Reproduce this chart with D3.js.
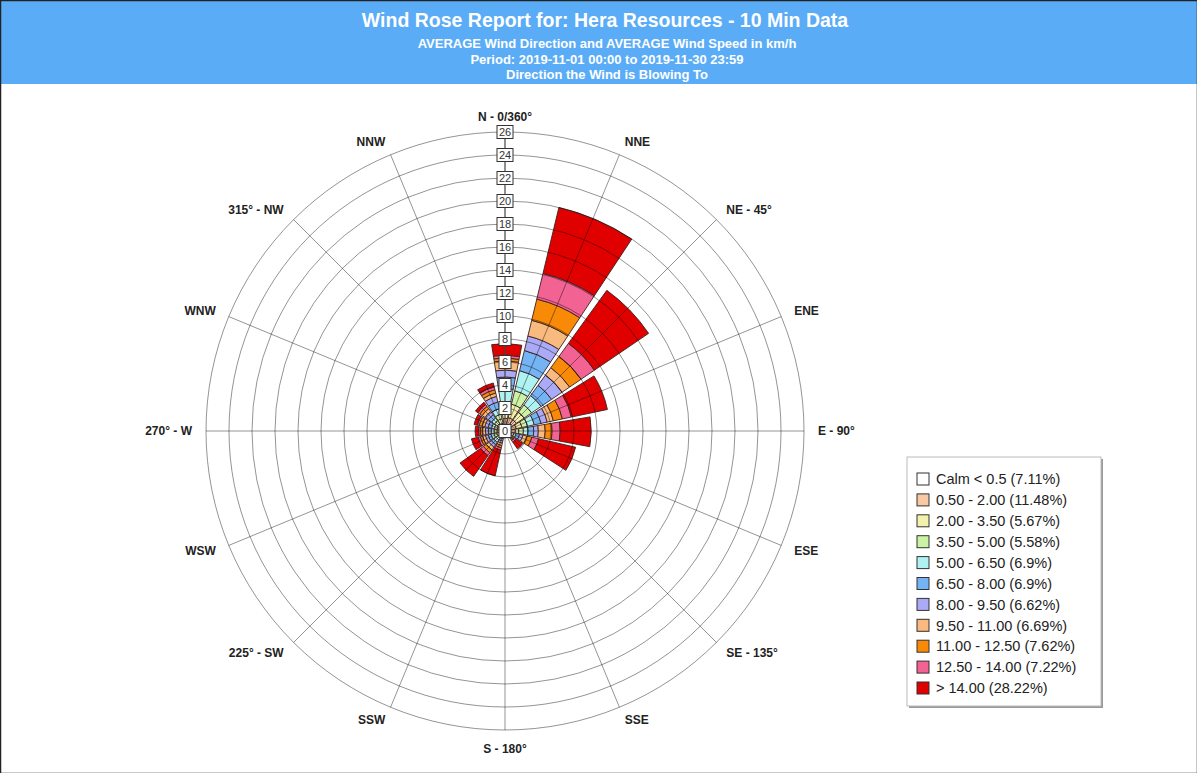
<!doctype html>
<html>
<head>
<meta charset="utf-8">
<script src="https://cdnjs.cloudflare.com/ajax/libs/d3/7.8.5/d3.min.js"></script>
<style>
  body { margin: 0; background: #fff; font-family: "Liberation Sans", Arial, sans-serif; }
  svg { display: block; }
</style>
</head>
<body>
<svg id="chart" width="1197" height="773"></svg>
<script>
// directions (blowing to), clockwise from north
var directions = ["N","NNE","NE","ENE","E","ESE","SE","SSE","S","SSW","SW","WSW","W","WNW","NW","NNW"];
var dirLabels = ["N - 0/360°","NNE","NE - 45°","ENE","E - 90°","ESE","SE - 135°","SSE",
                 "S - 180°","SSW","225° - SW","WSW","270° - W","WNW","315° - NW","NNW"];

// speed classes (km/h) and legend text
var classes = ["c1","c2","c3","c4","c5","c6","c7","c8","c9","c10"];
var legendText = ["Calm < 0.5 (7.11%)","0.50 - 2.00 (11.48%)","2.00 - 3.50 (5.67%)","3.50 - 5.00 (5.58%)",
                  "5.00 - 6.50 (6.9%)","6.50 - 8.00 (6.9%)","8.00 - 9.50 (6.62%)","9.50 - 11.00 (6.69%)",
                  "11.00 - 12.50 (7.62%)","12.50 - 14.00 (7.22%)","> 14.00 (28.22%)"];
var colors = ["#ffffff","#f8c9a2","#f2f2ac","#ccf2a6","#aef2f2","#74b4f4","#aaaaf6","#f8ba7e","#f88a08","#f26292","#e00000"];

// % of time per direction for each speed class
var c1  = [1.1,1.2,1.2,1.0,0.9,0.4,0.2,0.1,0.1,0.2,0.45,0.5,0.45,0.45,0.5,0.7];
var c2  = [0.7,1.2,0.8,0.5,0.3,0.2,0.15,0.1,0.05,0.15,0.25,0.25,0.25,0.25,0.3,0.4];
var c3  = [0.7,1.2,0.8,0.5,0.4,0.2,0.15,0.05,0.05,0.15,0.25,0.25,0.25,0.25,0.3,0.4];
var c4  = [1.2,1.8,1.0,0.6,0.4,0.2,0.1,0.05,0.05,0.2,0.25,0.25,0.25,0.25,0.3,0.5];
var c5  = [1.0,1.8,1.1,0.6,0.5,0.3,0.1,0.05,0.05,0.2,0.25,0.25,0.25,0.3,0.35,0.6];
var c6  = [0.6,1.3,1.1,0.55,0.4,0.3,0.1,0.05,0.05,0.2,0.25,0.25,0.25,0.3,0.35,0.5];
var c7  = [0.8,1.4,0.8,0.55,0.6,0.35,0.1,0.05,0.05,0.2,0.3,0.25,0.25,0.25,0.3,0.3];
var c8  = [0.25,1.9,1.2,0.8,0.6,0.45,0.1,0.05,0.05,0.2,0.3,0.2,0.2,0.25,0.25,0.3];
var c9  = [0.25,2.3,1.4,0.8,0.7,0.6,0.2,0.05,0.05,0.2,0.3,0.2,0.15,0.15,0.2,0.25];
var c10 = [1.0,5.9,5.7,3.2,2.7,3.3,0.7,0.05,0.1,2.3,2.2,0.6,0.3,0.3,0.25,0.35];

var radialTicks = [0,2,4,6,8,10,12,14,16,18,20,22,24,26];

var svg = d3.select("#chart");
var W = 1197, H = 773;
var cx = 505, cy = 431;

// header band
svg.append("rect").attr("x", 0).attr("y", 0).attr("width", W).attr("height", 84).attr("fill", "#5aacf7");
svg.append("rect").attr("x", 0.5).attr("y", 0.5).attr("width", W).attr("height", H)
  .attr("fill", "none").attr("stroke", "#222").attr("stroke-width", 1.5);

var head = svg.append("g").attr("fill", "#fff").attr("text-anchor", "middle").attr("font-weight", "bold");
head.append("text").attr("x", 605).attr("y", 27).attr("font-size", "19.5px")
  .text("Wind Rose Report for: Hera Resources - 10 Min Data");
head.append("text").attr("x", 607).attr("y", 48).attr("font-size", "13px")
  .text("AVERAGE Wind Direction and AVERAGE Wind Speed in km/h");
head.append("text").attr("x", 607).attr("y", 64).attr("font-size", "13px")
  .text("Period: 2019-11-01 00:00 to 2019-11-30 23:59");
head.append("text").attr("x", 607).attr("y", 79).attr("font-size", "13px")
  .text("Direction the Wind is Blowing To");

var r = d3.scaleLinear().domain([0, 26]).range([0, 299]);
var angle = d3.scaleBand().domain(directions).range([-Math.PI / 16, 2 * Math.PI - Math.PI / 16]).padding(0.11);

var rows = directions.map(function (d, i) {
  return { dir: d, c1: c1[i], c2: c2[i], c3: c3[i], c4: c4[i], c5: c5[i],
           c6: c6[i], c7: c7[i], c8: c8[i], c9: c9[i], c10: c10[i] };
});
var stacked = d3.stack().keys(classes)(rows);

var g = svg.append("g").attr("transform", "translate(" + cx + "," + cy + ")");

var arc = d3.arc()
  .innerRadius(function (d) { return r(d[0]); })
  .outerRadius(function (d) { return r(d[1]); })
  .startAngle(function (d) { return angle(d.data.dir); })
  .endAngle(function (d) { return angle(d.data.dir) + angle.bandwidth(); });

stacked.forEach(function (layer, k) {
  g.append("g").selectAll("path")
    .data(layer)
    .enter().append("path")
      .attr("d", arc)
      .attr("fill", colors[k + 1])
      .attr("stroke", "#3a2020")
      .attr("stroke-width", 0.9);
});

// grid on top of the petals
var grid = g.append("g").attr("fill", "none").attr("stroke", "rgba(0,0,0,0.42)").attr("stroke-width", 1);
grid.selectAll("circle").data(radialTicks.slice(1)).enter().append("circle")
  .attr("r", function (d) { return r(d); });
grid.selectAll("line").data(directions).enter().append("line")
  .attr("x1", 0).attr("y1", 0)
  .attr("x2", function (d, i) { return r(26) * Math.sin(i * Math.PI / 8); })
  .attr("y2", function (d, i) { return -r(26) * Math.cos(i * Math.PI / 8); });

// direction labels
var lab = g.append("g").attr("font-size", "12px").attr("font-weight", "bold").attr("fill", "#222");
directions.forEach(function (d, i) {
  var a = i * Math.PI / 8, s = Math.sin(a), c = Math.cos(a);
  var rr = 313;
  var anchor = s > 0.1 ? "start" : (s < -0.1 ? "end" : "middle");
  lab.append("text")
    .attr("x", rr * s)
    .attr("y", -rr * c + (Math.abs(s) < 0.1 ? (c > 0 ? -1 : 5) : 0))
    .attr("dy", "0.35em")
    .attr("text-anchor", anchor)
    .text(dirLabels[i]);
});

// radial value labels along north spoke
g.append("line").attr("x1", 0).attr("y1", 0).attr("x2", 0).attr("y2", -r(26))
  .attr("stroke", "#555").attr("stroke-width", 1);
var tk = g.append("g").selectAll("g").data(radialTicks).enter().append("g")
  .attr("transform", function (d) { return "translate(0," + (-r(d)) + ")"; });
tk.append("rect")
  .attr("x", function (d) { return d < 10 ? -6 : -8; })
  .attr("y", -6.5)
  .attr("width", function (d) { return d < 10 ? 12 : 16; })
  .attr("height", 13)
  .attr("fill", "#fff").attr("stroke", "#333").attr("stroke-width", 1);
tk.append("text").attr("text-anchor", "middle").attr("dy", "0.36em")
  .attr("font-size", "11px").attr("fill", "#333").text(function (d) { return d; });

// legend
var lg = svg.append("g").attr("transform", "translate(907,457)");
lg.append("rect").attr("x", 2).attr("y", 2).attr("width", 194).attr("height", 249).attr("fill", "#999");
lg.append("rect").attr("x", 0).attr("y", 0).attr("width", 194).attr("height", 249)
  .attr("fill", "#fff").attr("stroke", "#bbb");
var item = lg.selectAll("g.item").data(legendText).enter().append("g").attr("class", "item")
  .attr("transform", function (d, i) { return "translate(10," + (22 + i * 20.9) + ")"; });
item.append("rect").attr("x", 0).attr("y", -6).attr("width", 12).attr("height", 12)
  .attr("fill", function (d, i) { return colors[i]; }).attr("stroke", "#333");
item.append("text").attr("x", 19).attr("dy", "0.36em").attr("font-size", "14.5px").attr("fill", "#222")
  .text(function (d) { return d; });
</script>
</body>
</html>
